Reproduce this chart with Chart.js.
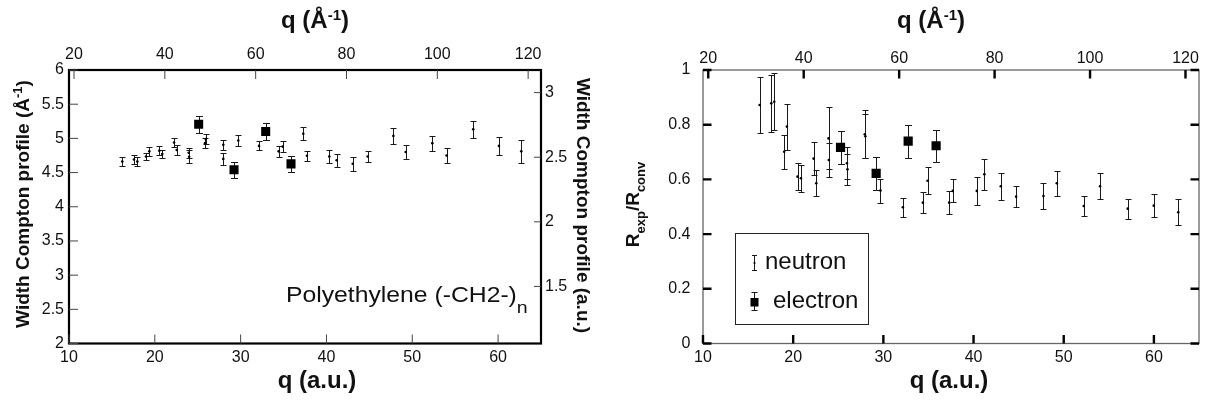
<!DOCTYPE html>
<html>
<head>
<meta charset="utf-8">
<script src="https://cdn.jsdelivr.net/npm/chart.js@4.4.0/dist/chart.umd.min.js"></script>
<style>
  html, body { margin: 0; padding: 0; background: #fff; }
  #wrap { position: relative; width: 1213px; height: 405px; overflow: hidden; }
  canvas { position: absolute; top: 0; }
  #leftChart { left: 0; }
  #rightChart { left: 600px; }
</style>
</head>
<body>
<div id="wrap">
  <canvas id="leftChart" width="600" height="405"></canvas>
  <canvas id="rightChart" width="613" height="405"></canvas>
</div>
<script>
// 1 a.u. of momentum = 1.8897 inverse angstrom
var AU_TO_INV_ANGSTROM = 1.8897;

// Left panel: Compton profile width
var leftNeutronQ = [16.21, 17.57, 17.96, 18.97, 19.36, 20.52, 20.87, 22.24, 22.55, 23.95, 24.0, 25.85, 25.93, 27.98, 27.98, 29.73,
    32.14, 34.43, 34.9, 37.3, 37.73, 40.33, 41.19, 43.06, 44.8, 47.8, 49.23, 52.34, 54.0, 57.1, 60.1, 62.7];
var leftNeutronW = [4.66, 4.69, 4.66, 4.735, 4.81, 4.82, 4.77, 4.94, 4.83, 4.79, 4.73, 4.93, 4.99, 4.905, 4.70, 4.97,
    4.89, 4.81, 4.88, 5.066, 4.745, 4.735, 4.68, 4.628, 4.735, 5.036, 4.80, 4.93, 4.75, 5.134, 4.89, 4.81];
var leftNeutronErr = [0.061, 0.061, 0.066, 0.058, 0.063, 0.063, 0.063, 0.061, 0.068, 0.073, 0.097, 0.073, 0.073, 0.078, 0.09, 0.075,
    0.066, 0.083, 0.078, 0.097, 0.073, 0.1, 0.097, 0.1, 0.085, 0.117, 0.097, 0.11, 0.105, 0.122, 0.13, 0.163];
var leftElectronQ = [25.11, 29.23, 32.92, 35.87];
var leftElectronW = [5.207, 4.54, 5.10, 4.627];
var leftElectronErr = [0.124, 0.12, 0.126, 0.12];

// Right panel: R_exp / R_conv
var rightNeutronQ = [16.28, 17.57, 17.9, 19.0, 19.3, 20.48, 20.86, 22.26, 22.56, 23.92, 23.95, 25.96, 26.02, 27.94, 28.0, 29.68,
    32.16, 34.38, 34.9, 37.3, 37.7, 40.36, 41.2, 43.02, 44.72, 47.75, 49.23, 52.22, 54.03, 57.1, 59.98, 62.7];
var rightNeutronR = [0.872, 0.878, 0.884, 0.701, 0.793, 0.61, 0.604, 0.676, 0.586, 0.75, 0.671, 0.659, 0.637, 0.765, 0.758, 0.559,
    0.498, 0.515, 0.595, 0.515, 0.558, 0.558, 0.619, 0.575, 0.537, 0.539, 0.586, 0.503, 0.575, 0.493, 0.504, 0.48];
var rightNeutronErr = [0.101, 0.104, 0.104, 0.063, 0.084, 0.049, 0.049, 0.06, 0.048, 0.113, 0.061, 0.058, 0.056, 0.088, 0.081, 0.044,
    0.034, 0.039, 0.049, 0.041, 0.042, 0.05, 0.057, 0.05, 0.038, 0.047, 0.046, 0.038, 0.047, 0.037, 0.043, 0.048];
var rightElectronQ = [25.25, 29.2, 32.75, 35.85];
var rightElectronR = [0.717, 0.622, 0.740, 0.723];
var rightElectronErr = [0.061, 0.061, 0.06, 0.059];

// tick labels
var bottomTicks = [10, 20, 30, 40, 50, 60];
var topTicks = [20, 40, 60, 80, 100, 120];
var widthTicks = [2, 2.5, 3, 3.5, 4, 4.5, 5, 5.5, 6];
var widthAuTicks = [1.5, 2, 2.5, 3];
var ratioTicks = [0, 0.2, 0.4, 0.6, 0.8, 1];

var FONT = "'Liberation Sans', Arial, Helvetica, sans-serif";
var INK = '#111';

function toPoints(xs, ys) {
    return xs.map(function(x, i) {
        return {x: x, y: ys[i]};
    });
}

function fixedTicks(values) {
    return function(scale) {
        scale.ticks = values.map(function(v) {
            return {value: v};
        });
    };
}

function fixedSize(prop, size) {
    return function(scale) {
        scale[prop] = size;
    };
}

function axis(position, min, max, ticks, size, padding) {
    var horizontal = position === 'top' || position === 'bottom';
    return {
        type: 'linear',
        position: position,
        min: min,
        max: max,
        grid: {display: false, drawTicks: false},
        border: {display: false},
        afterBuildTicks: fixedTicks(ticks),
        afterFit: fixedSize(horizontal ? 'height' : 'width', size),
        ticks: {
            autoSkip: false,
            maxRotation: 0,
            padding: padding,
            color: INK,
            font: {family: FONT, size: 16},
            callback: function(v) {
                return String(v);
            }
        }
    };
}

// vertical error bars, drawn under the markers
var errorBars = {
    id: 'errorBars',
    beforeDatasetsDraw: function(chart) {
        var ctx = chart.ctx;
        var xs = chart.scales.x;
        var ys = chart.scales.y;
        ctx.save();
        ctx.strokeStyle = '#1a1a1a';
        ctx.lineWidth = 1;
        chart.data.datasets.forEach(function(ds) {
            ds.data.forEach(function(p, i) {
                var e = ds.errors[i];
                var x = Math.round(xs.getPixelForValue(p.x)) + 0.5;
                var y1 = Math.round(ys.getPixelForValue(p.y - e)) + 0.5;
                var y2 = Math.round(ys.getPixelForValue(p.y + e)) + 0.5;
                var c = ds.capHalf;
                ctx.beginPath();
                ctx.moveTo(x, y1);
                ctx.lineTo(x, y2);
                ctx.moveTo(x - c, y1);
                ctx.lineTo(x + c, y1);
                ctx.moveTo(x - c, y2);
                ctx.lineTo(x + c, y2);
                ctx.stroke();
            });
        });
        ctx.restore();
    }
};

// box round the plot and inward tick marks
function framePlugin(style) {
    return {
        id: 'frame',
        afterDatasetsDraw: function(chart) {
            var a = chart.chartArea;
            var ctx = chart.ctx;
            ctx.save();
            ctx.strokeStyle = style.frameColor;
            ctx.lineWidth = style.frameWidth;
            ctx.strokeRect(a.left, a.top, a.right - a.left, a.bottom - a.top);
            ctx.strokeStyle = style.tickColor;
            ctx.lineWidth = style.tickWidth;
            ctx.beginPath();
            Object.keys(chart.scales).forEach(function(id) {
                var s = chart.scales[id];
                s.ticks.forEach(function(t) {
                    var p = s.getPixelForValue(t.value);
                    if (s.position === 'bottom') {
                        ctx.moveTo(p, a.bottom);
                        ctx.lineTo(p, a.bottom - style.tickLen);
                    } else if (s.position === 'top') {
                        ctx.moveTo(p, a.top);
                        ctx.lineTo(p, a.top + style.tickLen);
                    } else if (s.position === 'left') {
                        ctx.moveTo(a.left, p);
                        ctx.lineTo(a.left + style.tickLen, p);
                        if (style.mirrorY) {
                            ctx.moveTo(a.right, p);
                            ctx.lineTo(a.right - style.tickLen, p);
                        }
                    } else if (s.position === 'right') {
                        ctx.moveTo(a.right, p);
                        ctx.lineTo(a.right - style.rightTickLen, p);
                    }
                });
            });
            ctx.stroke();
            ctx.restore();
        }
    };
}

// text with super/subscripts, optionally rotated
function drawRich(ctx, item) {
    ctx.save();
    ctx.translate(item.x, item.y);
    ctx.rotate(item.rot || 0);
    if (item.sx) {
        ctx.scale(item.sx, 1);
    }
    ctx.fillStyle = INK;
    ctx.textBaseline = 'alphabetic';
    ctx.textAlign = 'left';
    var total = 0;
    item.parts.forEach(function(p) {
        ctx.font = p.font;
        p.w = ctx.measureText(p.text).width;
        total += p.w;
    });
    var cx = item.align === 'left' ? 0 : -total / 2;
    item.parts.forEach(function(p) {
        ctx.font = p.font;
        ctx.fillText(p.text, cx, p.dy || 0);
        cx += p.w;
    });
    ctx.restore();
}

function textPlugin(items) {
    return {
        id: 'texts',
        afterDraw: function(chart) {
            items.forEach(function(item) {
                drawRich(chart.ctx, item);
            });
        }
    };
}

function f(weight, size) {
    return weight + ' ' + size + 'px ' + FONT;
}

var HALF_PI = Math.PI / 2;

var commonOptions = {
    responsive: false,
    animation: false,
    devicePixelRatio: 1,
    plugins: {legend: {display: false}, tooltip: {enabled: false}}
};

// ---------------- left panel ----------------
new Chart(document.getElementById('leftChart'), {
    type: 'scatter',
    data: {
        datasets: [{
            label: 'neutron',
            data: toPoints(leftNeutronQ, leftNeutronW),
            errors: leftNeutronErr,
            capHalf: 3,
            pointRadius: 1.3,
            backgroundColor: '#000',
            borderWidth: 0
        }, {
            label: 'electron',
            data: toPoints(leftElectronQ, leftElectronW),
            errors: leftElectronErr,
            capHalf: 3.5,
            pointStyle: 'rect',
            pointRadius: 6.4,
            backgroundColor: '#000',
            borderWidth: 0
        }]
    },
    options: Object.assign({}, commonOptions, {
        layout: {padding: 0},
        scales: {
            x: axis('bottom', 10, 65, bottomTicks, 61.5, 4.5),
            x2: axis('top', 10 * AU_TO_INV_ANGSTROM, 65 * AU_TO_INV_ANGSTROM, topTicks, 70, 5.5),
            y: axis('left', 2, 6, widthTicks, 69, 5),
            y2: axis('right', 2 / AU_TO_INV_ANGSTROM, 6 / AU_TO_INV_ANGSTROM, widthAuTicks, 59, 4)
        }
    }),
    plugins: [
        errorBars,
        framePlugin({frameColor: '#000', frameWidth: 2.2, tickColor: '#444', tickWidth: 1, tickLen: 9, rightTickLen: 7, mirrorY: false}),
        textPlugin([
            {parts: [{text: 'q (a.u.)', font: f('bold', 24)}], x: 317, y: 388},
            {parts: [{text: 'q (Å', font: f('bold', 24)}, {text: '-1', font: f('bold', 15), dy: -8}, {text: ')', font: f('bold', 24)}], x: 315, y: 28},
            {parts: [{text: 'Width Compton profile (Å', font: f('bold', 19)}, {text: '-1', font: f('bold', 13), dy: -7},
                {text: ')', font: f('bold', 19)}], x: 29, y: 204, rot: -HALF_PI},
            {parts: [{text: 'Width Compton profile (a.u.)', font: f('bold', 19)}], x: 577, y: 205.5, rot: HALF_PI},
            {parts: [{text: 'Polyethylene (-CH2-)', font: f('normal', 21.5)}, {text: 'n', font: f('normal', 17), dy: 11}],
                x: 286, y: 302, align: 'left', sx: 1.15}
        ])
    ]
});

// legend box inside the right panel
var legendBox = {
    id: 'legendBox',
    afterDraw: function(chart) {
        var ctx = chart.ctx;
        var ds = chart.data.datasets;
        ctx.save();
        ctx.strokeStyle = '#222';
        ctx.lineWidth = 1;
        ctx.strokeRect(135.5, 233.5, 133, 91);
        ctx.strokeStyle = '#1a1a1a';
        ctx.beginPath();
        ctx.moveTo(154.5, 255.5);
        ctx.lineTo(154.5, 270.5);
        ctx.moveTo(152, 255.5);
        ctx.lineTo(157, 255.5);
        ctx.moveTo(152, 270.5);
        ctx.lineTo(157, 270.5);
        ctx.moveTo(154.5, 292.5);
        ctx.lineTo(154.5, 310.5);
        ctx.moveTo(151.5, 292.5);
        ctx.lineTo(157.5, 292.5);
        ctx.moveTo(151.5, 310.5);
        ctx.lineTo(157.5, 310.5);
        ctx.stroke();
        ctx.fillStyle = '#000';
        ctx.fillRect(150.5, 298, 8, 8.5);
        ctx.beginPath();
        ctx.arc(154.5, 263, 1.1, 0, Math.PI * 2);
        ctx.fill();
        ctx.restore();
        drawRich(ctx, {parts: [{text: ds[0].label, font: f('normal', 24)}], x: 165, y: 269.3, align: 'left'});
        drawRich(ctx, {parts: [{text: ds[1].label, font: f('normal', 24)}], x: 173, y: 308.3, align: 'left'});
    }
};

// ---------------- right panel ----------------
new Chart(document.getElementById('rightChart'), {
    type: 'scatter',
    data: {
        datasets: [{
            label: 'neutron',
            data: toPoints(rightNeutronQ, rightNeutronR),
            errors: rightNeutronErr,
            capHalf: 3,
            pointRadius: 1.3,
            backgroundColor: '#000',
            borderWidth: 0
        }, {
            label: 'electron',
            data: toPoints(rightElectronQ, rightElectronR),
            errors: rightElectronErr,
            capHalf: 3.5,
            pointStyle: 'rect',
            pointRadius: 6.5,
            backgroundColor: '#000',
            borderWidth: 0
        }]
    },
    options: Object.assign({}, commonOptions, {
        layout: {padding: {right: 14}},
        scales: {
            x: axis('bottom', 10, 65, bottomTicks, 61.5, 4.5),
            x2: axis('top', 10 * AU_TO_INV_ANGSTROM, 65 * AU_TO_INV_ANGSTROM, topTicks, 70, 2),
            y: axis('left', 0, 1, ratioTicks, 103, 12.5)
        }
    }),
    plugins: [
        errorBars,
        framePlugin({frameColor: '#666', frameWidth: 1.3, tickColor: '#000', tickWidth: 2.4, tickLen: 8.5, rightTickLen: 8.5, mirrorY: true}),
        legendBox,
        textPlugin([
            {parts: [{text: 'q (a.u.)', font: f('bold', 24)}], x: 349, y: 388},
            {parts: [{text: 'q (Å', font: f('bold', 24)}, {text: '-1', font: f('bold', 15), dy: -8}, {text: ')', font: f('bold', 24)}], x: 331, y: 28},
            {parts: [{text: 'R', font: f('bold', 19)}, {text: 'exp', font: f('bold', 13), dy: 6}, {text: '/R', font: f('bold', 19)},
                {text: 'conv', font: f('bold', 13), dy: 6}], x: 39, y: 204.5, rot: -HALF_PI}
        ])
    ]
});
</script>
</body>
</html>
